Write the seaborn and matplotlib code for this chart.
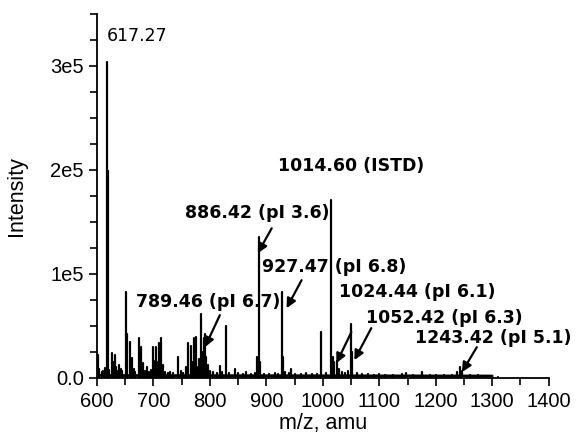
import matplotlib
matplotlib.use("Agg")
import matplotlib.pyplot as plt
import seaborn as sns
import pandas as pd
from matplotlib.ticker import MultipleLocator, FixedLocator, FixedFormatter

# ---------------- data ----------------
peak_mz = [602, 604, 608, 611, 614, 617.27, 619.0, 622, 625.7, 628, 631, 634, 636, 638.8,
           642, 645, 650.5, 653.5, 657.6, 660, 662, 665, 668, 674, 678.7, 682, 685, 688.7,
           692, 695, 699, 702, 704.6, 707, 709, 713.5, 716, 720, 725, 730, 735, 743.5, 748,
           752, 758, 762, 766, 769, 771, 774, 776, 779, 781, 784.6, 787, 789.46, 791, 793,
           796, 800, 805, 812, 817.6, 822, 827.6, 834, 844, 850, 858, 864, 872, 880, 884,
           886.42, 889, 895, 905, 915, 920, 927.47, 929, 933, 940, 944, 950, 962, 970, 980,
           990, 997, 1005, 1014.60, 1017.5, 1020, 1024.44, 1028, 1034, 1040, 1045, 1050,
           1052.42, 1060, 1070, 1080, 1090, 1100, 1110, 1125, 1140, 1147, 1160, 1176, 1190,
           1200, 1215, 1228, 1238, 1243.42, 1247, 1260, 1275, 1290, 1310]
peak_intensity = [22000, 8000, 5000, 6000, 9000, 304000, 199000, 7000, 24000, 15000, 22000,
                  10000, 6000, 12000, 8000, 6000, 82000, 42000, 34000, 12000, 19000, 8000,
                  5000, 38000, 29000, 14000, 6000, 10000, 5000, 7000, 29000, 16000, 29000,
                  15000, 33000, 38000, 12000, 5000, 4000, 5000, 4000, 20000, 6000, 4000,
                  10000, 33000, 30000, 15000, 38000, 12000, 39000, 10000, 18000, 61000,
                  25000, 38000, 42000, 20000, 12000, 6000, 5000, 4000, 11000, 5000, 50000,
                  4000, 8000, 4000, 3000, 5000, 3000, 4000, 20000, 135000, 15000, 3000,
                  3000, 4000, 3000, 82000, 20000, 5000, 4000, 8000, 3000, 3000, 4000, 3000,
                  3000, 44000, 4000, 171000, 20000, 15000, 16000, 8000, 5000, 4000, 6000,
                  52000, 25000, 4000, 3000, 3000, 2000, 3000, 2000, 2000, 3000, 4000, 2000,
                  5000, 2000, 2000, 2000, 2000, 5000, 10000, 6000, 2000, 2000, 1500, 1000]

noise_mz = [600, 1300]
noise_level = [2000, 1500]

x_ticks = [600, 700, 800, 900, 1000, 1100, 1200, 1300, 1400]
y_ticks = [0, 100000, 200000, 300000]
y_tick_labels = ["0.0", "1e5", "2e5", "3e5"]

main_label = "617.27"
main_label_pos = (670.2, 329000)

ann_texts = ["886.42 (pI 3.6)", "927.47 (pI 6.8)", "789.46 (pI 6.7)", "1024.44 (pI 6.1)",
             "1052.42 (pI 6.3)", "1243.42 (pI 5.1)"]
ann_text_xy = [(883, 158000), (1020.3, 106200), (796.6, 72600), (1167, 82200),
               (1214.6, 57200), (1301.2, 38000)]
ann_arrow_from = [(909.4, 143700), (962.3, 93700), (817.6, 60100), (1050.5, 43700),
                  (1085.8, 47600), (1272.8, 29300)]
ann_arrow_to = [(884.7, 119700), (935.8, 66800), (791.1, 29300), (1024, 13900),
                (1055.8, 16800), (1246.4, 5300)]
istd_text = "1014.60 (ISTD)"
istd_xy = (1050.5, 204000)

# ---------------- build long-form stick table ----------------
rows = []
for i, (m, v) in enumerate(zip(peak_mz, peak_intensity)):
    rows.append({"mz": m, "intensity": 0, "peak": i})
    rows.append({"mz": m, "intensity": v, "peak": i})
sticks = pd.DataFrame(rows)
noise = pd.DataFrame({"mz": noise_mz, "intensity": noise_level})

sns.set_theme(style="ticks")
plt.rcParams["font.family"] = ["Liberation Sans", "DejaVu Sans"]
for k in ["text.color", "axes.labelcolor", "xtick.color", "ytick.color", "axes.edgecolor"]:
    plt.rcParams[k] = "black"

fig = plt.figure(figsize=(5.82, 4.37), dpi=100)
ax = fig.add_axes([0.1667, 0.136, 0.776, 0.832])

sns.lineplot(data=noise, x="mz", y="intensity", color="black", lw=2.0, ax=ax)
sns.lineplot(data=sticks, x="mz", y="intensity", units="peak", estimator=None,
             color="black", lw=1.6, ax=ax, sort=False)

ax.set_xlim(600, 1400)
ax.set_ylim(0, 350000)
ax.xaxis.set_major_locator(FixedLocator(x_ticks))
ax.xaxis.set_minor_locator(MultipleLocator(50))
ax.yaxis.set_major_locator(FixedLocator(y_ticks))
ax.yaxis.set_major_formatter(FixedFormatter(y_tick_labels))
ax.yaxis.set_minor_locator(MultipleLocator(25000))

for s in ["top", "right"]:
    ax.spines[s].set_visible(False)
for s in ["left", "bottom"]:
    ax.spines[s].set_linewidth(1.3)
    ax.spines[s].set_color("black")

ax.tick_params(which="major", direction="out", length=6, width=1.2, labelsize=14.5,
               colors="black")
ax.tick_params(which="minor", direction="out", length=5, width=1.2, colors="black")
ax.tick_params(axis="x", which="major", pad=4.5)
ax.tick_params(axis="y", which="major", pad=3.5)

ax.set_xlabel("m/z, amu", fontsize=15.5)
ax.set_ylabel("Intensity", fontsize=15.5)
ax.xaxis.set_label_coords(0.5, -0.098)
ax.yaxis.set_label_coords(-0.155, 0.5)

ax.text(main_label_pos[0], main_label_pos[1], main_label, ha="center", va="center",
        fontsize=12.5, family=["DejaVu Sans"])
ax.text(istd_xy[0], istd_xy[1], istd_text, ha="center", va="center", fontsize=12.5,
        fontweight="bold", family=["DejaVu Sans"])

for t, txy, a0, a1 in zip(ann_texts, ann_text_xy, ann_arrow_from, ann_arrow_to):
    ax.text(txy[0], txy[1], t, ha="center", va="center", fontsize=12.5,
            fontweight="bold", family=["DejaVu Sans"])
    ax.annotate("", xy=a1, xytext=a0,
                arrowprops=dict(arrowstyle="-|>", color="black", lw=1.6,
                                mutation_scale=14, shrinkA=0, shrinkB=0))

fig.savefig("out.png", dpi=100, facecolor="white")
